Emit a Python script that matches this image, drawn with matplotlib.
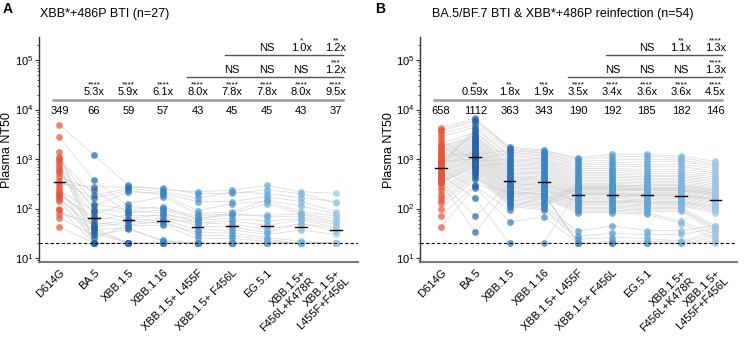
import numpy as np
import matplotlib
matplotlib.use('Agg')
import matplotlib.pyplot as plt

plt.rcParams['font.family'] = ['Liberation Sans', 'DejaVu Sans']
plt.rcParams['mathtext.fontset'] = 'custom'
plt.rcParams['mathtext.rm'] = 'Liberation Sans'

variants = ['D614G', 'BA.5', 'XBB.1.5', 'XBB.1.16', 'XBB.1.5+ L455F', 'XBB.1.5+ F456L',
            'EG.5.1', 'XBB.1.5+\nF456L+K478R', 'XBB.1.5+\nL455F+F456L']
colors = ['#e6553a', '#2563a8', '#3373b8', '#3d82c1', '#4c90c8', '#5096ca',
          '#68a7d4', '#80b5db', '#9cc6e3']

# panel A: XBB*+486P BTI (n=27), one value per donor, same donor order in each list
a_d614g = [4900, 2750, 1410, 316, 1120, 1000, 955, 832, 355, 724, 631, 562, 525, 437,
           200, 275, 234, 219, 186, 174, 155, 141, 79, 98, 93, 65, 43]
a_ba5 = [1200, 380, 20, 275, 36, 186, 126, 20, 162, 95, 40, 112, 79, 234, 59, 20, 89,
         47, 68, 32, 42, 25, 52, 20, 38, 29, 20]
a_xbb15 = [295, 110, 20, 269, 20, 257, 93, 20, 234, 87, 20, 219, 126, 83, 74, 20, 63,
           59, 56, 20, 54, 47, 45, 20, 40, 38, 20]
a_xbb116 = [240, 100, 20, 257, 20, 219, 110, 20, 191, 83, 20, 204, 174, 93, 71, 20, 76,
            63, 50, 20, 60, 55, 46, 20, 22, 23, 20]
a_l455f = [219, 71, 20, 200, 20, 162, 63, 20, 91, 52, 20, 138, 78, 63, 45, 20, 59, 52,
           33, 20, 37, 29, 25, 20, 20, 20, 20]
a_f456l = [234, 79, 20, 204, 20, 219, 74, 20, 126, 56, 20, 138, 87, 79, 42, 20, 63, 48,
           32, 20, 37, 28, 25, 20, 20, 20, 20]
a_eg51 = [295, 69, 20, 240, 20, 200, 74, 20, 141, 46, 20, 174, 148, 126, 33, 20, 56, 38,
          26, 20, 30, 24, 22, 20, 20, 20, 20]
a_k478r = [219, 69, 20, 200, 20, 166, 76, 20, 87, 59, 20, 138, 112, 79, 50, 20, 63, 50,
           22, 20, 37, 20, 20, 20, 20, 20, 20]
a_lf = [204, 51, 20, 132, 20, 138, 55, 20, 71, 42, 20, 87, 79, 63, 35, 20, 48, 40, 20,
        20, 30, 20, 20, 20, 20, 20, 20]
a_gmt = [349, 66, 59, 57, 43, 45, 45, 43, 37]
a_fold = [['', '5.3x', '5.9x', '6.1x', '8.0x', '7.8x', '7.8x', '8.0x', '9.5x'],
          ['', '', '', '', '', 'NS', 'NS', 'NS', '1.2x'],
          ['', '', '', '', '', '', 'NS', '1.0x', '1.2x']]
a_sig = [['', '****', '****', '****', '****', '****', '****', '****', '****'],
         ['', '', '', '', '', '', '', '', '***'],
         ['', '', '', '', '', '', '', '*', '**']]

# panel B: BA.5/BF.7 BTI & XBB*+486P reinfection (n=54)
b_d614g = [4300, 3900, 3600, 1200, 3200, 900, 2800, 700, 2400, 860, 2100, 1900, 1800,
           1700, 1550, 1450, 1350, 1250, 1150, 1100, 1000, 950, 900, 850, 800, 760, 720,
           680, 640, 600, 560, 530, 500, 470, 440, 410, 390, 370, 350, 340, 330, 270,
           235, 200, 175, 150, 130, 100, 72, 42, 620, 480, 360, 330]
b_ba5 = [6700, 6200, 5800, 1250, 5000, 1000, 4400, 4100, 900, 3600, 3400, 700, 3000,
         2850, 2700, 2550, 2400, 2250, 2100, 2000, 1900, 1800, 1700, 1600, 1500, 1450,
         1400, 1350, 1300, 1200, 1150, 1100, 1050, 1000, 950, 900, 850, 800, 760, 720,
         680, 640, 600, 560, 520, 480, 440, 400, 300, 280, 260, 160, 70, 33]
b_xbb15 = [1750, 1650, 1550, 1500, 1400, 1300, 1200, 1100, 1000, 950, 900, 850, 800,
           750, 700, 660, 620, 580, 550, 520, 490, 460, 440, 420, 400, 380, 360, 340,
           320, 300, 285, 270, 255, 240, 225, 210, 200, 190, 180, 170, 160, 150, 140,
           130, 125, 120, 110, 200, 220, 95, 54, 20, 320, 260]
b_xbb116 = [1500, 1450, 1350, 1300, 1200, 1150, 1050, 1000, 950, 900, 850, 800, 760,
            720, 680, 640, 600, 560, 530, 500, 470, 440, 410, 390, 370, 350, 330, 310,
            290, 275, 260, 245, 230, 215, 200, 190, 180, 170, 160, 150, 140, 130, 125,
            118, 110, 100, 95, 200, 200, 190, 68, 20, 300, 240]
b_l455f = [1050, 980, 900, 820, 760, 700, 640, 590, 540, 500, 460, 430, 400, 370, 345,
           320, 300, 280, 265, 250, 235, 220, 210, 200, 190, 180, 170, 160, 150, 142,
           135, 128, 120, 113, 106, 100, 94, 88, 82, 300, 280, 260, 240, 200, 35, 28,
           24, 20, 20, 20, 20, 250, 190, 140]
b_f456l = [1250, 1100, 950, 850, 780, 700, 640, 590, 540, 500, 460, 430, 400, 370, 345,
           320, 300, 280, 265, 250, 235, 220, 210, 200, 190, 180, 170, 160, 150, 142,
           135, 128, 120, 113, 106, 100, 94, 88, 82, 300, 280, 260, 240, 200, 45, 32,
           26, 22, 20, 20, 20, 250, 190, 140]
b_eg51 = [1250, 1150, 1000, 880, 780, 700, 620, 560, 510, 470, 440, 410, 380, 355, 330,
          310, 290, 270, 255, 240, 225, 212, 200, 190, 180, 170, 160, 150, 142, 135,
          128, 120, 113, 106, 100, 94, 88, 82, 76, 290, 270, 250, 230, 190, 36, 30, 25,
          22, 20, 20, 20, 240, 180, 135]
b_k478r = [1150, 1050, 950, 880, 780, 700, 620, 560, 510, 470, 440, 410, 380, 355, 330,
           310, 290, 270, 255, 240, 225, 212, 200, 190, 180, 170, 160, 150, 142, 135,
           128, 120, 113, 106, 100, 94, 88, 55, 50, 290, 270, 250, 230, 190, 36, 30, 22,
           21, 20, 20, 20, 240, 180, 135]
b_lf = [900, 820, 760, 700, 640, 580, 530, 480, 440, 400, 370, 340, 315, 290, 270, 250,
        235, 220, 205, 192, 180, 170, 160, 150, 140, 132, 124, 116, 108, 100, 94, 88,
        82, 45, 40, 40, 35, 30, 25, 250, 230, 210, 190, 160, 45, 40, 35, 30, 26, 22, 20,
        200, 150, 110]
b_gmt = [658, 1112, 363, 343, 190, 192, 185, 182, 146]
b_fold = [['', '0.59x', '1.8x', '1.9x', '3.5x', '3.4x', '3.6x', '3.6x', '4.5x'],
          ['', '', '', '', '', 'NS', 'NS', 'NS', '1.3x'],
          ['', '', '', '', '', '', 'NS', '1.1x', '1.3x']]
b_sig = [['', '**', '**', '***', '****', '****', '****', '****', '****'],
         ['', '', '', '', '', '', '', '', '****'],
         ['', '', '', '', '', '', '', '**', '****']]

limit = 20


def draw_panel(ax, values, gmt, folds, sigs):
    x = np.arange(len(variants))
    data = np.array(values, dtype=float)
    # donor lines
    for j in range(data.shape[1]):
        ax.plot(x, data[:, j], color='#c8c8c8', lw=0.45, alpha=0.8, zorder=1)
    for i in range(len(variants)):
        ax.scatter(np.full(data.shape[1], x[i]), data[i], s=24, color=colors[i],
                   alpha=0.7, linewidths=0, zorder=2)
        ax.plot([x[i] - 0.17, x[i] + 0.17], [gmt[i], gmt[i]], color='black', lw=1, zorder=4)
        ax.text(x[i], 8100, str(gmt[i]), ha='center', va='baseline', fontsize=8)
    ax.axhline(limit, color='black', ls=(0, (3, 2)), lw=0.8, zorder=3)

    # comparison rows
    starts = [-0.2, 3.7, 4.8]
    line_y = [15500, 45400, 126000]
    fold_y = [19600, 54600, 152000]
    sig_y = [29900, 83000, 231000]
    for r in range(3):
        ax.plot([starts[r], 8.2], [line_y[r], line_y[r]], clip_on=False,
                color='#9a9a9a' if r == 0 else '#555555', lw=1.8 if r == 0 else 1.0)
        for i in range(len(variants)):
            if folds[r][i]:
                ax.text(x[i], fold_y[r], folds[r][i], ha='center', va='baseline', fontsize=8)
            if sigs[r][i]:
                ax.text(x[i], sig_y[r], sigs[r][i], ha='center', va='baseline', fontsize=6)

    ax.set_yscale('log')
    ax.set_ylim(8.3, 2.9e5)
    ax.set_xlim(-0.6, 8.64)
    ax.set_yticks([10, 100, 1000, 1e4, 1e5])
    ax.spines['top'].set_visible(False)
    ax.spines['right'].set_visible(False)
    ax.spines['bottom'].set_color('#7a7a7a')
    ax.spines['bottom'].set_linewidth(1.5)
    ax.spines['left'].set_color('#333333')
    ax.spines['left'].set_linewidth(1.0)
    ax.set_xticks(x)
    ax.set_xticklabels(variants, rotation=45, ha='right', va='top',
                       rotation_mode='anchor', fontsize=8)
    ax.tick_params(axis='x', length=0, pad=4)
    ax.tick_params(axis='y', which='major', length=3, labelsize=8, pad=1, color='#333333')
    ax.tick_params(axis='y', which='minor', length=1.8, color='#333333')
    ax.set_ylabel('Plasma NT50', fontsize=9, labelpad=1)


fig = plt.figure(figsize=(7.44, 3.4), dpi=100)
ax_a = fig.add_axes([0.052, 0.229, 0.429, 0.662])
ax_b = fig.add_axes([0.565, 0.229, 0.426, 0.662])

draw_panel(ax_a, [a_d614g, a_ba5, a_xbb15, a_xbb116, a_l455f, a_f456l, a_eg51, a_k478r, a_lf],
           a_gmt, a_fold, a_sig)
draw_panel(ax_b, [b_d614g, b_ba5, b_xbb15, b_xbb116, b_l455f, b_f456l, b_eg51, b_k478r, b_lf],
           b_gmt, b_fold, b_sig)

fig.text(0.004, 0.962, 'A', fontsize=10, fontweight='bold', va='baseline')
fig.text(0.054, 0.95, 'XBB*+486P BTI (n=27)', fontsize=9, va='baseline')
fig.text(0.504, 0.962, 'B', fontsize=10, fontweight='bold', va='baseline')
fig.text(0.581, 0.95, 'BA.5/BF.7 BTI & XBB*+486P reinfection (n=54)', fontsize=9, va='baseline')

fig.savefig('out.png', dpi=100)
